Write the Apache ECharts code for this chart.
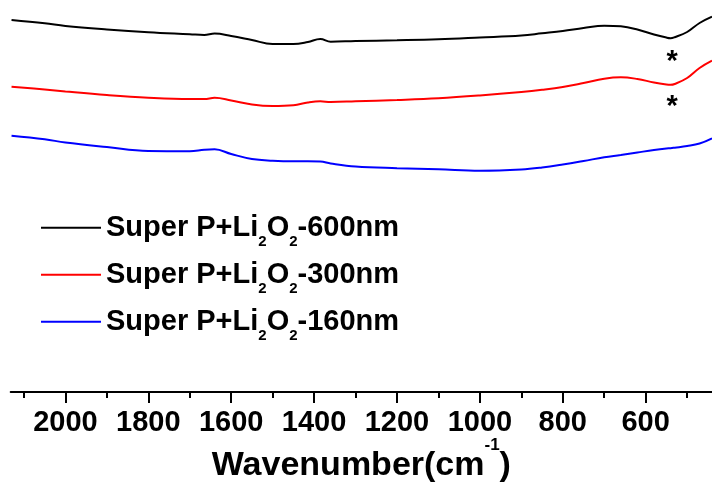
<!DOCTYPE html>
<html>
<head>
<meta charset="utf-8">
<script src="https://cdn.jsdelivr.net/npm/echarts@6/dist/echarts.min.js"></script>
<style>
  html, body { margin: 0; padding: 0; background: #fff; }
  #chart { width: 712px; height: 486px; }
</style>
</head>
<body>
<div id="chart"></div>
<script>
// wavenumber (cm-1)
var wavenumbers = [2130, 2050, 2000, 1900, 1800, 1700, 1665, 1640, 1600, 1550, 1500, 1450, 1415, 1385, 1360, 1300,
  1200, 1100, 1000, 900, 850, 800, 750, 700, 660, 620, 580, 550, 540, 530, 500, 470, 440];

// transmittance, arbitrary units (curves are offset)
var t600 = [93.0, 92.18, 91.5, 90.63, 89.93, 89.43, 89.25, 89.6, 89.0, 88.0, 87.0, 87.0, 87.5, 88.25, 87.58, 87.75,
  87.93, 88.18, 88.63, 89.13, 89.68, 90.25, 91.0, 91.58, 91.43, 90.63, 89.38, 88.6, 88.45, 88.7, 90.0, 92.25, 93.83];
var t300 = [76.33, 75.63, 75.13, 74.25, 73.58, 73.25, 73.25, 73.55, 72.88, 71.88, 71.5, 71.68, 72.38, 72.68, 72.5, 72.68,
  73.0, 73.43, 74.13, 75.0, 75.55, 76.25, 77.25, 78.33, 78.68, 78.25, 77.38, 76.88, 76.8, 77.0, 78.5, 81.0, 82.83];
var t160 = [64.08, 63.18, 62.38, 61.25, 60.25, 60.18, 60.55, 60.68, 59.5, 58.25, 57.83, 57.68, 57.68, 57.63, 57.13, 56.38,
  55.95, 55.68, 55.33, 55.63, 56.13, 56.88, 57.75, 58.68, 59.25, 59.88, 60.5, 60.88, 60.95, 61.08, 61.5, 62.13, 63.43];

var seriesNames = ["Super P+Li2O2-600nm", "Super P+Li2O2-300nm", "Super P+Li2O2-160nm"];
var tickLabels = [2000, 1800, 1600, 1400, 1200, 1000, 800, 600];
var minorTicks = [2100, 1900, 1700, 1500, 1300, 1100, 900, 700, 500];
// asterisks mark the Li2O2 band
var starMarks = [[536, 84.25], [536, 73.0]];

var FONT = "Liberation Sans, Arial, sans-serif";

function pairs(ys) {
  var out = [];
  for (var i = 0; i < wavenumbers.length; i++) out.push([wavenumbers[i], ys[i]]);
  return out;
}

function legendLabel(name) {
  // Li2O2 -> Li{sub|2}O{sub|2}
  return name.replace("Li2O2", "Li{sub|2}O{sub|2}");
}

var myChart = echarts.init(document.getElementById("chart"));

var lineSeries = function (name, data, color) {
  return {
    name: name,
    type: "line",
    data: pairs(data),
    smooth: 0.4,
    symbol: "none",
    showSymbol: false,
    lineStyle: { color: color, width: 2 },
    itemStyle: { color: color },
  };
};

var s600 = lineSeries(seriesNames[0], t600, "#000000");
s600.markPoint = {
  symbol: "circle",
  symbolSize: 0,
  label: {
    show: true,
    formatter: "*",
    position: "inside",
    offset: [0, 7],
    color: "#000",
    fontSize: 29,
    fontWeight: "bold",
    fontFamily: FONT,
  },
  data: starMarks.map(function (c) { return { coord: c }; }),
};

var option = {
  animation: false,
  backgroundColor: "#ffffff",
  grid: { left: 10.7, right: 0, top: 0, bottom: 94, outerBoundsMode: "none" },
  legend: {
    data: seriesNames,
    orient: "vertical",
    left: 41,
    top: 205.7,
    padding: 0,
    icon: "rect",
    itemWidth: 60,
    itemHeight: 2,
    itemGap: 3,
    selectedMode: false,
    formatter: legendLabel,
    textStyle: {
      color: "#000",
      fontSize: 29,
      fontWeight: "bold",
      fontFamily: FONT,
      lineHeight: 44,
      rich: {
        sub: {
          color: "#000",
          fontSize: 15,
          fontWeight: "bold",
          fontFamily: FONT,
          lineHeight: 13,
          verticalAlign: "bottom",
        },
      },
    },
  },
  xAxis: [
    {
      type: "value",
      min: 440,
      max: 2132,
      inverse: true,
      position: "bottom",
      name: "{a|Wavenumber(cm}{s|-1}{a|)}",
      nameLocation: "middle",
      nameGap: 45,
      nameMoveOverlap: false,
      nameTextStyle: {
        rich: {
          a: { fontSize: 34, fontWeight: "bold", fontFamily: FONT, color: "#000", lineHeight: 57 },
          s: { fontSize: 17, fontWeight: "bold", fontFamily: FONT, color: "#000", lineHeight: 18, verticalAlign: "top" },
        },
      },
      axisLine: { show: true, onZero: false, lineStyle: { color: "#000", width: 2 } },
      axisTick: { show: true, customValues: tickLabels, length: 11, lineStyle: { color: "#000", width: 2 } },
      axisLabel: {
        customValues: tickLabels,
        formatter: function (v) { return String(v); },
        margin: 15.5,
        color: "#000",
        fontSize: 29,
        fontWeight: "bold",
        fontFamily: FONT,
        lineHeight: 30,
      },
      splitLine: { show: false },
    },
    {
      type: "value",
      min: 440,
      max: 2132,
      inverse: true,
      position: "bottom",
      axisLine: { show: false },
      axisTick: { show: true, customValues: minorTicks, length: 6, lineStyle: { color: "#000", width: 2 } },
      axisLabel: { show: false },
      splitLine: { show: false },
    },
  ],
  yAxis: {
    type: "value",
    min: 0,
    max: 98,
    show: false,
    splitLine: { show: false },
  },
  series: [s600, lineSeries(seriesNames[1], t300, "#ff0000"), lineSeries(seriesNames[2], t160, "#0000ff")],
};

option && myChart.setOption(option);
</script>
</body>
</html>
